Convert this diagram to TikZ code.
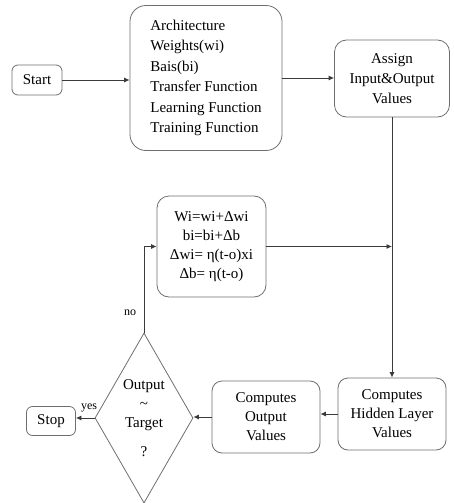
\documentclass[tikz,border=0pt]{standalone}
\usepackage{fontspec}
\setmainfont{Liberation Serif}
\usetikzlibrary{shapes.geometric,arrows.meta}
\definecolor{boxgray}{HTML}{6E6E6E}
\definecolor{linegray}{HTML}{3A3A3A}
\begin{document}
\begin{tikzpicture}[x=1pt,y=-1pt,
  box/.style={draw=boxgray,line width=0.8pt,rounded corners=#1,inner sep=0pt,align=center,font=\fontsize{15}{19}\selectfont},
  box/.default=6pt,
  arr/.style={draw=linegray,line width=0.8pt,-{Latex[length=5.5pt,width=5pt]}},
  ln/.style={draw=linegray,line width=0.8pt},
  lab/.style={font=\fontsize{12}{14}\selectfont,inner sep=0pt}]
\useasboundingbox (0,0) rectangle (454,503);
\node[box, minimum width=50pt, minimum height=30pt] (start) at (37,80) {Start};
\node[box=16pt, minimum width=152pt, minimum height=145pt, align=left, font=\fontsize{15}{20.4}\selectfont] (big) at (206,78)
  {Architecture\\Weights(wi)\\Bais(bi)\\Transfer Function\\Learning Function\\Training Function};
\node[box=12pt, minimum width=115pt, minimum height=77pt, font=\fontsize{15}{20}\selectfont] (assign) at (392,78.5) {Assign\\Input\&Output\\Values};
\node[box=12pt, minimum width=109pt, minimum height=101pt] (update) at (211.5,246.5)
  {Wi=wi+Δwi\\bi=bi+Δb\\Δwi= η(t-o)xi\\Δb= η(t-o)};
\node[box=10pt, minimum width=108pt, minimum height=72pt] (hidden) at (392,414) {Computes\\Hidden Layer\\Values};
\node[box=10pt, minimum width=108pt, minimum height=72pt] (output) at (266,417) {Computes\\Output\\Values};
\node[draw=boxgray, line width=0.8pt, diamond, minimum width=98pt, minimum height=170pt, inner sep=0pt,
  label={[align=center,font=\fontsize{15}{19}\selectfont]center:Output\\\string~\\Target\\[10pt]?}] (dia) at (144,418) {};
\node[box, minimum width=49pt, minimum height=29pt] (stop) at (51,421) {Stop};
\draw[arr] (start.east) -- (start.east -| big.west);
\draw[arr] (big.east) -- (big.east -| assign.west);
\draw[arr] (assign.south) -- (hidden.north);
\draw[arr] (update.east) -- (update.east -| assign.south);
\draw[arr] (dia.north) |- (update.west);
\draw[arr] (hidden.west) -- (hidden.west -| output.east);
\draw[arr] (output.west) -- (output.west -| dia.east);
\draw[arr] (dia.west) -- (dia.west -| stop.east);
\node[lab] (no) at (130,313) {no};
\node[lab] (yes) at (89,408) {yes};
\end{tikzpicture}
\end{document}
